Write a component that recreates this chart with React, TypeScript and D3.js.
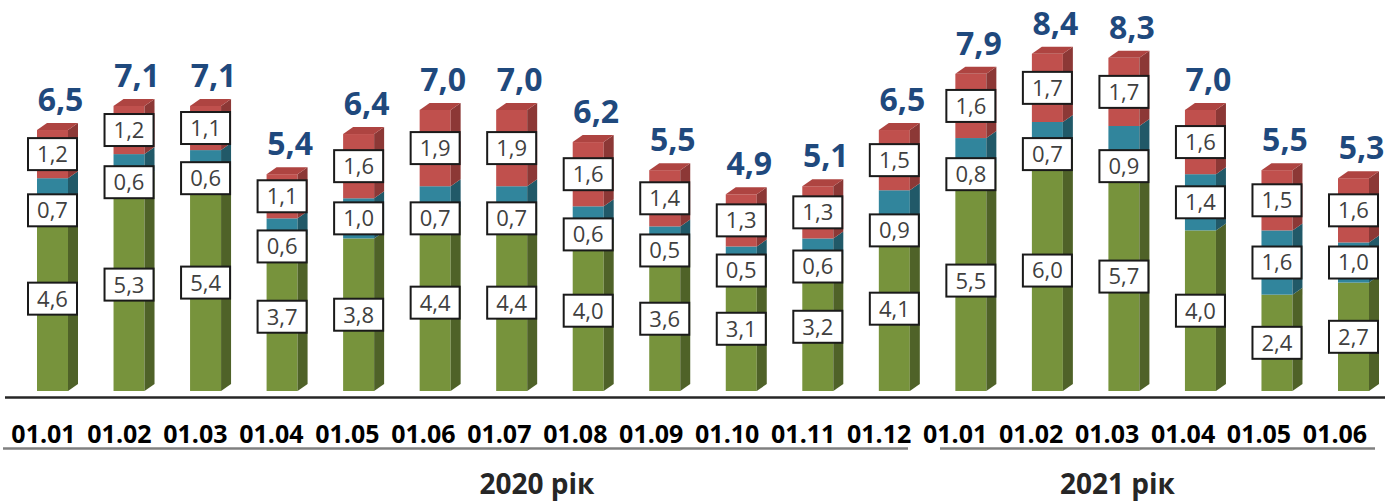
import React from "react";
import * as d3 from "d3";

const categories = ["01.01","01.02","01.03","01.04","01.05","01.06","01.07","01.08","01.09","01.10","01.11","01.12","01.01","01.02","01.03","01.04","01.05","01.06"];
const greenValues = [4.6,5.3,5.4,3.7,3.8,4.4,4.4,4.0,3.6,3.1,3.2,4.1,5.5,6.0,5.7,4.0,2.4,2.7];
const tealValues = [0.7,0.6,0.6,0.6,1.0,0.7,0.7,0.6,0.5,0.5,0.6,0.9,0.8,0.7,0.9,1.4,1.6,1.0];
const redValues = [1.2,1.2,1.1,1.1,1.6,1.9,1.9,1.6,1.4,1.3,1.3,1.5,1.6,1.7,1.7,1.6,1.5,1.6];
const totalValues = [6.5,7.1,7.1,5.4,6.4,7.0,7.0,6.2,5.5,4.9,5.1,6.5,7.9,8.4,8.3,7.0,5.5,5.3];
const yearLabels = ["2020 рік", "2021 рік"];

const W = 1387, H = 502;
const FONT = "'Open Sans', 'Noto Sans', sans-serif";
const BAR_W = 31, DX = 10, DY = 7;
const BASE_Y = 391;
const PX_PER_UNIT = 40.15;

const seriesKeys = ["green", "teal", "red"];
const colors: Record<string, { front: string; side: string; top: string }> = {
  green: { front: "#77933C", side: "#4F6228", top: "#8DAA4E" },
  teal: { front: "#31859C", side: "#215968", top: "#3E9AB3" },
  red: { front: "#C0504D", side: "#8C3836", top: "#AE4441" },
};

const fmt = (v: number) => v.toFixed(1).replace(".", ",");

export default function App() {
  const rows = categories.map((c, i) => ({
    idx: i,
    green: greenValues[i],
    teal: tealValues[i],
    red: redValues[i],
  }));
  const stack = d3.stack<any>().keys(seriesKeys);
  const series = stack(rows);

  const x = d3.scalePoint<number>().domain(d3.range(categories.length)).range([52.5, 1353.5]);
  const xLabel = d3.scalePoint<number>().domain(d3.range(categories.length)).range([43.5, 1335]);
  const y = d3.scaleLinear().domain([0, 9]).range([BASE_Y, BASE_Y - 9 * PX_PER_UNIT]);

  const boxW = 49, boxH = 32;

  const bars: React.ReactNode[] = [];
  const labels: React.ReactNode[] = [];

  series.forEach((s, si) => {
    const key = seriesKeys[si];
    const col = colors[key];
    s.forEach((d, i) => {
      const cx = x(i)!;
      const x0 = cx - BAR_W / 2;
      const x1 = cx + BAR_W / 2;
      const yb = y(d[0]);
      const yt = y(d[1]);
      bars.push(
        <g key={`${key}-${i}`}>
          <rect x={x0} y={yt} width={BAR_W} height={yb - yt} fill={col.front} />
          <polygon
            points={`${x1},${yb} ${x1 + DX},${yb - DY} ${x1 + DX},${yt - DY} ${x1},${yt}`}
            fill={col.side}
          />
          {si === seriesKeys.length - 1 && (
            <polygon
              points={`${x0},${yt} ${x0 + DX},${yt - DY} ${x1 + DX},${yt - DY} ${x1},${yt}`}
              fill={col.top}
            />
          )}
        </g>
      );
      const v = d[1] - d[0];
      let ly = (yb + yt) / 2;
      if (key === "teal" && tealValues[i] < 1.0) {
        ly = y(greenValues[i]) + 4;
      }
      labels.push(
        <g key={`lbl-${key}-${i}`}>
          <rect x={cx - boxW / 2} y={ly - boxH / 2} width={boxW} height={boxH} fill="#fff" stroke="#1a1a1a" strokeWidth={2} />
          <text x={cx} y={ly} dy="0.36em" textAnchor="middle" fontFamily={FONT} fontSize={22} fill="#404040">
            {fmt(v)}
          </text>
        </g>
      );
    });
  });

  return (
    <svg width={W} height={H} style={{ position: "absolute", left: 0, top: 0, background: "#fff" }}>
      <rect width={W} height={H} fill="#fff" />
      {bars}
      {labels}
      {totalValues.map((t, i) => (
        <text key={`tot-${i}`} x={x(i)! + 8} y={y(t) - 19} textAnchor="middle" fontFamily={FONT} fontWeight={700} fontSize={32} fill="#1F497D">
          {fmt(t)}
        </text>
      ))}
      <line x1={5} x2={1385} y1={397.5} y2={397.5} stroke="#262626" strokeWidth={2.5} />
      {categories.map((c, i) => (
        <text key={`cat-${i}`} x={xLabel(i)!} y={443} textAnchor="middle" fontFamily={FONT} fontWeight={700} fontSize={25} fill="#000">
          {c}
        </text>
      ))}
      <line x1={3} x2={908} y1={448.5} y2={448.5} stroke="#808080" strokeWidth={2.5} />
      <line x1={940} x2={1375} y1={448.5} y2={448.5} stroke="#808080" strokeWidth={2.5} />
      <text x={537} y={494} textAnchor="middle" fontFamily={FONT} fontWeight={700} fontSize={28} fill="#262626">{yearLabels[0]}</text>
      <text x={1117.5} y={494} textAnchor="middle" fontFamily={FONT} fontWeight={700} fontSize={28} fill="#262626">{yearLabels[1]}</text>
    </svg>
  );
}
